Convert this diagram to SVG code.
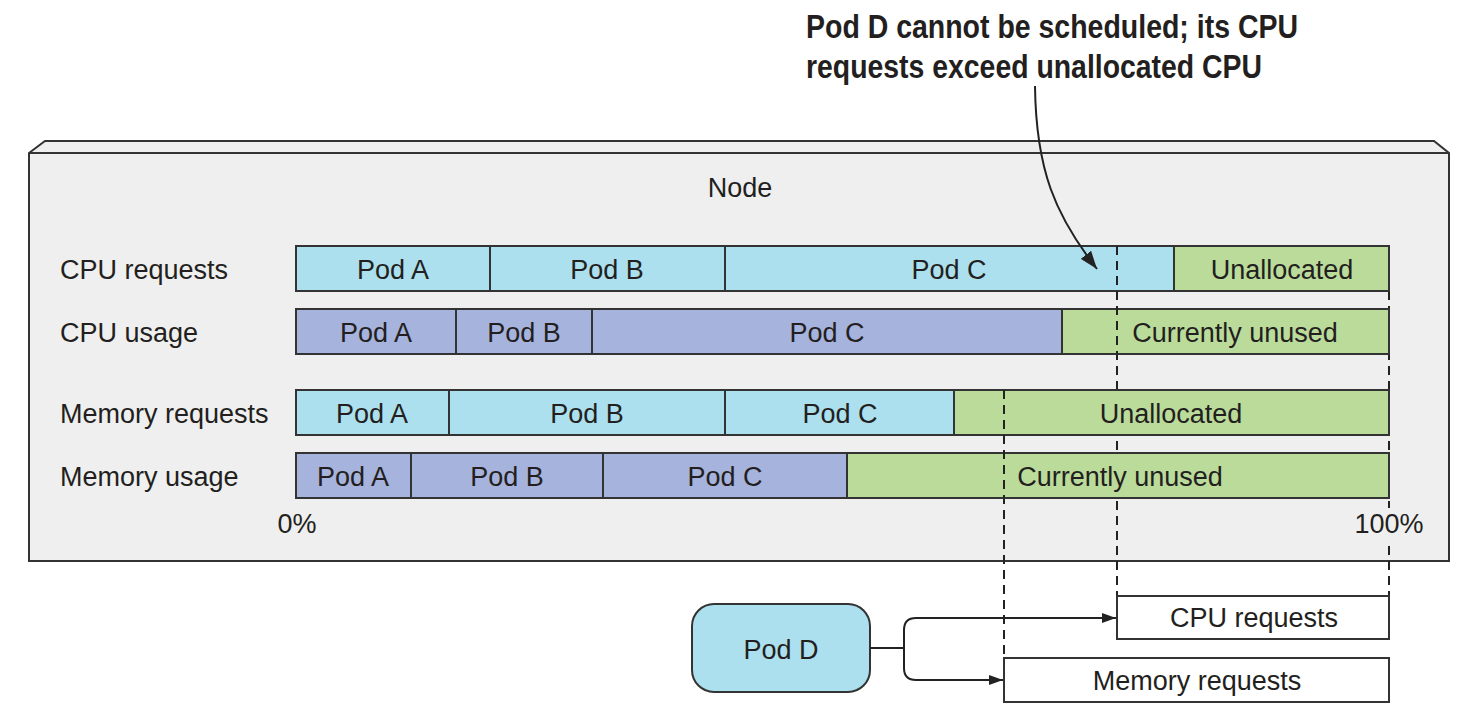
<svg xmlns="http://www.w3.org/2000/svg" width="1474" height="721" viewBox="0 0 1474 721">
<style>
.lbl{font-family:"Liberation Sans",Arial,sans-serif;font-size:27px;fill:#231f20}
.mid{text-anchor:middle}
.seg{stroke:#333;stroke-width:2}
.req{fill:#ace0ee}
.use{fill:#a6b3dd}
.free{fill:#bbdb9b}
.dash{stroke:#222;stroke-width:2;stroke-dasharray:9,6;fill:none}
.conn{stroke:#222;stroke-width:2;fill:none}
.note{font-family:"Liberation Sans",Arial,sans-serif;font-weight:bold;font-size:33px;fill:#231f20}
</style>
<defs>
<marker id="arr" markerWidth="14" markerHeight="10" refX="14" refY="5" orient="auto" markerUnits="userSpaceOnUse">
<path d="M0,0 L14,5 L0,10 Z" fill="#222"/>
</marker>
<marker id="arrBig" markerWidth="18" markerHeight="13" refX="18" refY="6.5" orient="auto" markerUnits="userSpaceOnUse">
<path d="M0,0 L18,6.5 L0,13 Z" fill="#222"/>
</marker>
</defs>

<g id="node">
<path d="M29,153 L45,141 L1434,141 L1449,153 L1449,561 L29,561 Z" fill="#efefef" stroke="#333" stroke-width="2"/>
<line x1="29" y1="153" x2="1449" y2="153" stroke="#333" stroke-width="2"/>
<text class="lbl mid" x="740" y="197">Node</text>
</g>

<g id="guides">
<line class="dash" x1="1117" y1="246" x2="1117" y2="596"/>
<line class="dash" x1="1004" y1="390" x2="1004" y2="658"/>
<line class="dash" x1="1389" y1="291" x2="1389" y2="596"/>
</g>

<g id="row-cpu-requests">
<text class="lbl" x="60" y="279">CPU requests</text>
<rect class="seg req" x="296" y="246" width="194" height="45"/>
<rect class="seg req" x="490" y="246" width="235" height="45"/>
<rect class="seg req" x="725" y="246" width="449" height="45"/>
<rect class="seg free" x="1174" y="246" width="215" height="45"/>
<text class="lbl mid" x="393" y="279">Pod A</text>
<text class="lbl mid" x="607" y="279">Pod B</text>
<text class="lbl mid" x="949" y="279">Pod C</text>
<text class="lbl mid" x="1282" y="279">Unallocated</text>
</g>

<g id="row-cpu-usage">
<text class="lbl" x="60" y="342">CPU usage</text>
<rect class="seg use" x="296" y="309" width="160" height="45"/>
<rect class="seg use" x="456" y="309" width="136" height="45"/>
<rect class="seg use" x="592" y="309" width="470" height="45"/>
<rect class="seg free" x="1062" y="309" width="327" height="45"/>
<text class="lbl mid" x="376" y="342">Pod A</text>
<text class="lbl mid" x="524" y="342">Pod B</text>
<text class="lbl mid" x="827" y="342">Pod C</text>
<text class="lbl mid" x="1235" y="342">Currently unused</text>
</g>

<g id="row-memory-requests">
<text class="lbl" x="60" y="423">Memory requests</text>
<rect class="seg req" x="296" y="390" width="153" height="45"/>
<rect class="seg req" x="449" y="390" width="276" height="45"/>
<rect class="seg req" x="725" y="390" width="229" height="45"/>
<rect class="seg free" x="954" y="390" width="435" height="45"/>
<text class="lbl mid" x="372" y="423">Pod A</text>
<text class="lbl mid" x="587" y="423">Pod B</text>
<text class="lbl mid" x="840" y="423">Pod C</text>
<text class="lbl mid" x="1171" y="423">Unallocated</text>
</g>

<g id="row-memory-usage">
<text class="lbl" x="60" y="486">Memory usage</text>
<rect class="seg use" x="296" y="453" width="115" height="45"/>
<rect class="seg use" x="411" y="453" width="192" height="45"/>
<rect class="seg use" x="603" y="453" width="244" height="45"/>
<rect class="seg free" x="847" y="453" width="542" height="45"/>
<text class="lbl mid" x="353" y="486">Pod A</text>
<text class="lbl mid" x="507" y="486">Pod B</text>
<text class="lbl mid" x="725" y="486">Pod C</text>
<text class="lbl mid" x="1120" y="486">Currently unused</text>
</g>

<g id="guides-over-bars">
<line class="dash" x1="1117" y1="246" x2="1117" y2="354"/>
<line class="dash" x1="1004" y1="390" x2="1004" y2="498"/>
</g>

<g id="axis">
<text class="lbl mid" x="297" y="533">0%</text>
<rect x="1355" y="508" width="68" height="34" fill="#efefef"/>
<text class="lbl mid" x="1389" y="533">100%</text>
</g>

<g id="pod-d">
<rect x="692" y="604" width="178" height="88" rx="22" ry="22" fill="#ace0ee" stroke="#333" stroke-width="2"/>
<text class="lbl mid" x="781" y="659">Pod D</text>
</g>

<g id="cpu-requests-box">
<rect x="1117" y="596" width="272" height="43" fill="#fff" stroke="#333" stroke-width="2"/>
<text class="lbl mid" x="1254" y="627">CPU requests</text>
</g>

<g id="memory-requests-box">
<rect x="1004" y="658" width="385" height="44" fill="#fff" stroke="#333" stroke-width="2"/>
<text class="lbl mid" x="1197" y="690">Memory requests</text>
</g>

<g id="connectors">
<path class="conn" d="M870,648 L904,648"/>
<path class="conn" d="M904,648 L904,630 Q904,618 916,618 L1116,618" marker-end="url(#arr)"/>
<path class="conn" d="M904,648 L904,668 Q904,680 916,680 L1003,680" marker-end="url(#arr)"/>
<path class="conn" stroke-width="1.5" d="M1035,86 C1036,170 1055,215 1097,269" marker-end="url(#arrBig)"/>
</g>

<g id="annotation">
<text class="note" x="806" y="38" textLength="492" lengthAdjust="spacingAndGlyphs">Pod D cannot be scheduled; its CPU</text>
<text class="note" x="806" y="78" textLength="456" lengthAdjust="spacingAndGlyphs">requests exceed unallocated CPU</text>
</g>
</svg>
